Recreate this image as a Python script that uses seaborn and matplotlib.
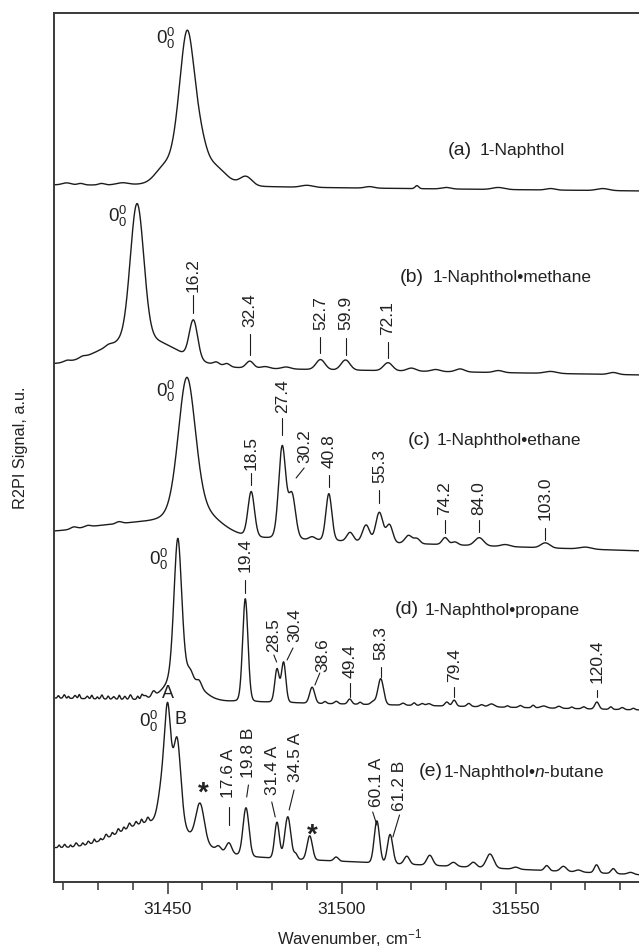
import numpy as np
import pandas as pd
import matplotlib
matplotlib.use("Agg")
import matplotlib.pyplot as plt
from matplotlib.ticker import MultipleLocator
import seaborn as sns

sns.set_style("ticks")
plt.rcParams["font.family"] = ["Liberation Sans", "DejaVu Sans"]
plt.rcParams["mathtext.fontset"] = "custom"
plt.rcParams["mathtext.rm"] = "Liberation Sans"
plt.rcParams["mathtext.it"] = "Liberation Sans:italic"

# ---------------------------------------------------------------------------
# Spectral data: band origins (cm^-1) and vibronic shifts (cm^-1)
# ---------------------------------------------------------------------------
origin_a = 31455.6
origin_b = 31441.2
origin_c = 31455.5
origin_d = 31452.9
origin_eA = 31450.0
origin_eB = 31452.7

shifts_b = [16.2, 32.4, 52.7, 59.9, 72.1]
shifts_c = [18.5, 27.4, 30.2, 40.8, 55.3, 74.2, 84.0, 103.0]
shifts_d = [19.4, 28.5, 30.4, 38.6, 49.4, 58.3, 79.4, 120.4]
shifts_eA = [17.6, 31.4, 34.5, 60.1]
shifts_eB = [19.8, 61.2]

# Baseline level of each trace at the low and high wavenumber ends (a.u.)
base_a = [697, 691]
base_b = [517, 507]
base_c = [350, 331]
base_d = [184, 172]
base_e = [34, 7]

# Band lists: centre (cm^-1), height (a.u.), FWHM (cm^-1), Lorentzian fraction
pos_a = [origin_a, 31459.8, 31462.5, 31472.5, 31449.0, 31521.6, 31421.0, 31437.0, 31490.0, 31545.0, 31575.0,
         31425.0, 31431.0, 31508.0, 31530.0, 31560.0]
amp_a = [152, 10, 18, 9, 14, 3, 2, 2, 2, 2, 2, 1.5, 1.5, 1.5, 1.5, 1.5]
wid_a = [5.6, 3.5, 9.0, 4.0, 6.0, 1.2, 3.0, 4.0, 4.0, 4.0, 4.0, 2.0, 2.0, 3.0, 3.0, 3.0]
eta_a = [0.3] + [0] * 15

pos_b = [origin_b, 31442.0, origin_b + 16.2, 31464.0, 31467.0, origin_b + 32.4, 31478.0, 31484.0,
         origin_b + 52.7, origin_b + 59.9, origin_b + 72.1, 31520.0, 31527.0, 31534.0, 31545.0, 31560.0, 31578.0,
         31421.0, 31425.5, 31433.0]
amp_b = [133, 30, 38, 3, 3, 7, 2, 2, 10, 10, 8, 3, 2, 3, 2, 2, 2, 1.5, 1.5, 1.5]
wid_b = [4.5, 24, 2.8, 2, 2, 2.5, 3, 3, 3, 3, 3, 3, 3, 3, 3, 4, 3, 2, 2, 2]
eta_b = [0] * 20

pos_c = [origin_c, 31458.0, 31443.0, 31430.0, origin_c + 18.5, origin_c + 27.4, origin_c + 30.2, 31491.5,
         origin_c + 40.8, 31502.4, 31507.0, origin_c + 55.3, 31513.7, 31519.2, 31521.6, origin_c + 74.2,
         31532.5, origin_c + 84.0, origin_c + 103.0, 31547.0, 31570.0, 31423.0, 31427.0, 31436.0]
amp_c = [134, 25, 10, 6, 45, 92, 44, 3, 47, 9, 17, 30, 18, 8, 5, 7, 3, 8, 5, 2, 2, 2, 1.5, 2]
wid_c = [5.8, 15, 16, 16, 2.2, 2.4, 2.4, 2, 2.0, 2.2, 2.4, 2.4, 2.2, 2.4, 2, 2, 2, 3, 3, 3, 4, 2, 2, 2]
eta_c = [0.2, 0, 0, 0, 0.1, 0.1, 0.1, 0, 0.1] + [0] * 15

pos_d = [origin_d, 31454.5, 31445.9, 31443.5, 31459.1, 31456.5, origin_d + 19.4, origin_d + 28.5,
         origin_d + 30.4, origin_d + 38.6, origin_d + 49.4, 31509.0, origin_d + 58.3, 31525.0, 31530.2,
         origin_d + 79.4, 31536.5, 31543.0, 31558.0, origin_d + 120.4,
         31418.6, 31420.3, 31421.5, 31423.4, 31424.6, 31426.9, 31428.2, 31429.8, 31431.1, 31432.9,
         31434.5, 31436.1, 31437.7, 31439.3, 31441.4, 31442.6,
         31495.2, 31498.4, 31505.3, 31517.6, 31520.8, 31523.1, 31540.2, 31547.6, 31551.3, 31555.0,
         31562.4, 31566.1, 31569.5, 31577.3, 31580.6, 31583.8]
amp_d = [138, 26, 5, 3, 5, 5, 103, 33, 40, 16, 5, 3, 26, 2, 4, 6, 3, 3, 2, 7,
         2.5, 3.5, 2, 3, 4, 2.5, 3.5, 2, 4, 3, 2.5, 4, 3, 4.5, 3, 4,
         2, 2.5, 2, 2, 2.5, 2, 2, 1.5, 2, 2.5, 2, 1.5, 2, 2.5, 2, 1.5]
wid_d = [2.6, 10, 1.2, 1.2, 1.5, 1.5, 1.8, 1.5, 1.5, 1.7, 1.3, 1.5, 1.9, 1.5, 1.3, 1.3, 1.3, 2, 2, 1.4,
         0.6, 0.7, 0.5, 0.8, 0.6, 0.7, 0.6, 0.5, 0.7, 0.6, 0.8, 0.6, 0.7, 0.8, 0.6, 0.7,
         1.0, 1.2, 1.0, 1.2, 1.0, 1.2, 1.4, 1.0, 1.2, 1.0, 1.4, 1.0, 1.2, 1.0, 1.2, 1.0]
eta_d = [0.2, 0, 0, 0, 0, 0, 0.1, 0.1, 0.1] + [0] * 43

pos_e = [31446.0, origin_eA, origin_eB, 31448.3, 31459.3, origin_eA + 17.6, origin_eB + 19.8,
         origin_eA + 31.4, origin_eA + 34.5, 31486.8, 31490.8, 31498.4, origin_eA + 60.1, origin_eB + 61.2,
         31518.7, 31525.3, 31532.1, 31537.8, 31542.6, 31558.9, 31563.7, 31573.2, 31578.0,
         31418.8, 31420.4, 31422.1, 31423.7, 31425.6, 31427.2, 31428.9, 31430.7, 31432.3, 31434.1,
         31435.8, 31437.4, 31439.0, 31440.9, 31442.5, 31444.3, 31464.6, 31550.0, 31568.0, 31583.0]
amp_e = [30, 108, 88, 30, 38, 10, 48, 36, 42, 5, 24, 4, 42, 29, 8, 10, 4, 5, 14, 5, 5, 8, 5,
         2.5, 3, 2, 3.5, 2.5, 3, 3.5, 2, 4, 3, 4, 3, 4.5, 3.5, 4, 4.5, 4, 2, 2, 2]
wid_e = [24, 2.2, 2.6, 2.5, 2.8, 1.8, 2.0, 1.6, 2.0, 1.2, 1.8, 1.5, 1.8, 1.8, 1.8, 2.0, 2, 2, 2.5, 1.5, 2,
         1.5, 1.5, 0.6, 0.7, 0.5, 0.8, 0.6, 0.7, 0.6, 0.5, 0.8, 0.6, 0.7, 0.6, 0.8, 0.7, 0.6, 0.8,
         1.5, 2, 2, 2]
eta_e = [0, 0.2, 0.2] + [0] * 40

trace_names = ["(a)", "(b)", "(c)", "(d)", "(e)"]
complex_names = ["1-Naphthol", "1-Naphthol\u2022methane", "1-Naphthol\u2022ethane",
                 "1-Naphthol\u2022propane", "1-Naphthol\u2022$\\mathit{n}$-butane"]

x_ticks = [31450, 31500, 31550]

# ---------------------------------------------------------------------------
# Build traces
# ---------------------------------------------------------------------------
wn = np.arange(31416.0, 31587.0, 0.05)


def band(x, centre, height, fwhm, eta):
    g = np.exp(-4 * np.log(2) * ((x - centre) / fwhm) ** 2)
    lz = 1.0 / (1.0 + (2 * (x - centre) / fwhm) ** 2)
    return height * ((1 - eta) * g + eta * lz)


def trace(base, pos, amp, wid, eta):
    y = base[0] + (base[1] - base[0]) * (wn - wn[0]) / (wn[-1] - wn[0])
    for p, a, w, e in zip(pos, amp, wid, eta):
        y = y + band(wn, p, a, w, e)
    return y


specs = {
    "(a)": trace(base_a, pos_a, amp_a, wid_a, eta_a),
    "(b)": trace(base_b, pos_b, amp_b, wid_b, eta_b),
    "(c)": trace(base_c, pos_c, amp_c, wid_c, eta_c),
    "(d)": trace(base_d, pos_d, amp_d, wid_d, eta_d),
    "(e)": trace(base_e, pos_e, amp_e, wid_e, eta_e),
}
df = pd.concat([pd.DataFrame({"wavenumber": wn, "signal": specs[k], "trace": k}) for k in trace_names])

# ---------------------------------------------------------------------------
# Figure
# ---------------------------------------------------------------------------
W, H = 639, 952
fig = plt.figure(figsize=(W / 100, H / 100), dpi=100)
ax = fig.add_axes([53.5 / W, 70 / H, (W - 53.5) / W, 869 / H])

ink = "#1c1c1c"
for k in trace_names:
    sns.lineplot(data=df[df["trace"] == k], x="wavenumber", y="signal", ax=ax,
                 color=ink, lw=1.0, estimator=None, sort=False)

ax.set_xlim(31417.2, 31585.4)
ax.set_ylim(0, 869)
ax.set_yticks([])
ax.set_xticks(x_ticks)
ax.set_xticklabels([str(t) for t in x_ticks])
ax.xaxis.set_minor_locator(MultipleLocator(10))
ax.tick_params(axis="x", which="major", direction="out", length=8.6, width=1.1,
               color="#333333", labelsize=12.5, pad=6, labelcolor="#222222")
ax.tick_params(axis="x", which="minor", direction="out", length=5.8, width=1.1, color="#333333")
for side in ["left", "bottom", "top"]:
    ax.spines[side].set_linewidth(1.4)
    ax.spines[side].set_color("#3a3a3a")
ax.spines["right"].set_visible(False)

ax.set_xlabel("Wavenumber, cm$^{-1}$", fontsize=12, color="#222222")
ax.xaxis.set_label_coords(0.506, -0.052)
ax.set_ylabel("R2PI Signal, a.u.", fontsize=11.7, color="#222222")
ax.yaxis.set_label_coords(-0.0436, 0.5)

# Trace titles
title_pos = {
    "(a)": (31530.6, 31539.5, 732),
    "(b)": (31516.8, 31526.2, 605),
    "(c)": (31518.9, 31527.4, 442),
    "(d)": (31515.3, 31523.7, 272),
    "(e)": (31522.0, 31529.0, 110),
}
for k, name in zip(trace_names, complex_names):
    x0, x1, yy = title_pos[k]
    ax.text(x0, yy, k, fontsize=14, ha="left", va="center", color="#222222")
    ax.text(x1, yy, name, fontsize=12.5, ha="left", va="center", color="#222222")

# Origin labels
for xx, yy in [(31449.3, 844), (31435.5, 666), (31449.3, 491), (31447.3, 323), (31444.4, 161)]:
    ax.text(xx, yy, "$0^{0}_{0}$", fontsize=13.5, ha="center", va="center", color="#222222")
ax.text(31450.1, 189, "A", fontsize=13, ha="center", va="center", color="#222222")
ax.text(31453.8, 162, "B", fontsize=13, ha="center", va="center", color="#222222")
ax.text(31460.3, 88, "*", fontsize=20, fontweight="bold", ha="center", va="center", color="#222222")
ax.text(31491.6, 46, "*", fontsize=20, fontweight="bold", ha="center", va="center", color="#222222")


def mark(x_peak, label, text_bottom, y0, y1, dx0=0.0, dx1=0.0, dxt=0.0):
    ax.plot([x_peak + dx0, x_peak + dx1], [y0, y1], color=ink, lw=0.8)
    ax.text(x_peak + dxt, text_bottom, label, rotation=90, ha="center", va="bottom",
            fontsize=12.5, color="#222222")


# (b)
for s, tb, y0, y1 in zip(shifts_b, [590, 555, 552, 552, 547], [569, 527, 529, 527, 524],
                         [587, 548, 545, 544, 540]):
    mark(origin_b + s, f"{s:.1f}", tb, y0, y1)

# (c)
c_layout = [(412, 397, 409, 0, 0, 0), (469, 447, 464, 0, 0, 0), (419, 404, 414, 1.2, 3.5, 3.8),
            (414, 395, 407, 0, 0, 0), (399, 379, 392, 0, 0, 0), (367, 349, 362, 0, 0, 0),
            (367, 350, 362, 0, 0, 0), (362, 342, 354, 0, 0, 0)]
for s, (tb, y0, y1, dx0, dx1, dxt) in zip(shifts_c, c_layout):
    mark(origin_c + s, f"{s:.1f}", tb, y0, y1, dx0, dx1, dxt)

# (d)
d_layout = [(310, 289, 302, 0, 0, 0), (230, 220, 227, -0.1, -0.9, -1.1), (240, 222, 234, 1.0, 2.7, 3.3),
            (210, 197, 209, 0.8, 2.2, 3.1), (204, 185, 199, 0, 0, 0), (222, 205, 215, 0, 0, 0),
            (200, 185, 195, 0, 0, 0), (199, 185, 192, 0, 0, 0)]
for s, (tb, y0, y1, dx0, dx1, dxt) in zip(shifts_d, d_layout):
    mark(origin_d + s, f"{s:.1f}", tb, y0, y1, dx0, dx1, dxt)

# (e)
eA_layout = [(84, 57, 75, 0, 0, -0.2), (87, 65, 80, -0.5, -1.5, -1.4), (100, 72, 92, 0.4, 1.8, 2.1),
             (75, 57, 70, 0.0, -1.2, -0.2)]
for s, (tb, y0, y1, dx0, dx1, dxt) in zip(shifts_eA, eA_layout):
    mark(origin_eA + s, f"{s:.1f} A", tb, y0, y1, dx0, dx1, dxt)
eB_layout = [(104, 85, 97, 0.2, 0.7, 0.6), (71, 45, 67, 0.8, 2.7, 2.7)]
for s, (tb, y0, y1, dx0, dx1, dxt) in zip(shifts_eB, eB_layout):
    mark(origin_eB + s, f"{s:.1f} B", tb, y0, y1, dx0, dx1, dxt)

fig.savefig("out.png", dpi=100)
